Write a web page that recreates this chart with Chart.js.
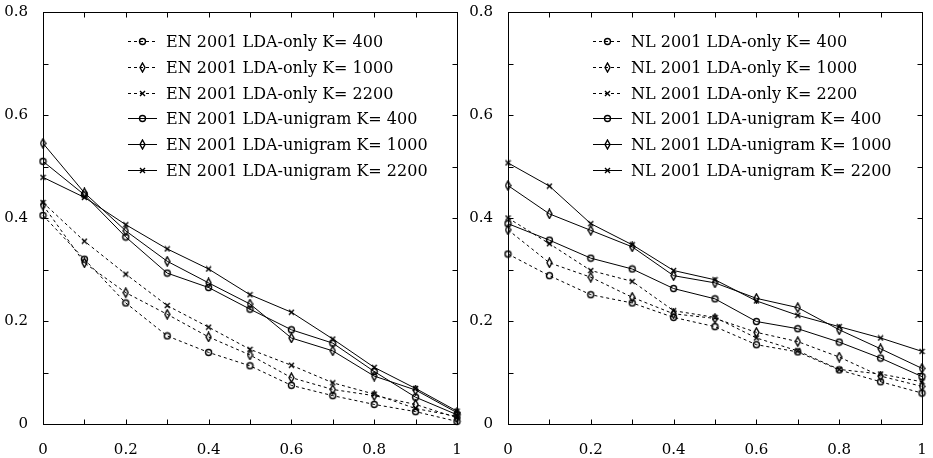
<!DOCTYPE html>
<html>
<head>
<meta charset="utf-8">
<script src="https://cdn.jsdelivr.net/npm/chart.js@4/dist/chart.umd.min.js"></script>
<style>
  body { margin: 0; background: #fff; }
  canvas { position: absolute; top: 0; }
  #graph_en { left: 0; }
  #graph_nl { left: 465px; }
</style>
</head>
<body>
<canvas id="graph_en" width="465" height="458"></canvas>
<canvas id="graph_nl" width="468" height="458"></canvas>
<script>
/* x positions shared by every series */
const xValues = [0, 0.1, 0.2, 0.3, 0.4, 0.5, 0.6, 0.7, 0.8, 0.9, 1];

/* EN 2001 */
const enOnly400 = [0.405, 0.320, 0.235, 0.171, 0.139, 0.113, 0.075, 0.055, 0.038, 0.024, 0.005];
const enOnly1000 = [0.425, 0.313, 0.255, 0.213, 0.169, 0.134, 0.090, 0.067, 0.055, 0.038, 0.012];
const enOnly2200 = [0.430, 0.355, 0.291, 0.230, 0.188, 0.145, 0.114, 0.080, 0.058, 0.030, 0.015];
const enUni400 = [0.510, 0.445, 0.363, 0.293, 0.265, 0.223, 0.183, 0.157, 0.102, 0.052, 0.018];
const enUni1000 = [0.545, 0.449, 0.375, 0.316, 0.274, 0.233, 0.167, 0.142, 0.093, 0.066, 0.022];
const enUni2200 = [0.479, 0.440, 0.387, 0.340, 0.301, 0.251, 0.217, 0.165, 0.110, 0.069, 0.025];

/* NL 2001 */
const nlOnly400 = [0.330, 0.288, 0.251, 0.235, 0.207, 0.189, 0.154, 0.140, 0.105, 0.082, 0.060];
const nlOnly1000 = [0.377, 0.313, 0.285, 0.246, 0.214, 0.205, 0.178, 0.160, 0.130, 0.093, 0.073];
const nlOnly2200 = [0.400, 0.350, 0.298, 0.277, 0.220, 0.207, 0.167, 0.142, 0.106, 0.097, 0.082];
const nlUni400 = [0.389, 0.357, 0.322, 0.301, 0.263, 0.243, 0.199, 0.185, 0.159, 0.128, 0.092];
const nlUni1000 = [0.463, 0.408, 0.376, 0.344, 0.288, 0.274, 0.244, 0.226, 0.183, 0.146, 0.108];
const nlUni2200 = [0.507, 0.462, 0.389, 0.348, 0.298, 0.280, 0.239, 0.211, 0.189, 0.167, 0.141];

const kValues = [400, 1000, 2200];
const xTicks = [0, 0.2, 0.4, 0.6, 0.8, 1];
const yTicks = [0, 0.2, 0.4, 0.6, 0.8];

const FONT = 'DejaVu Serif';

/* gnuplot style open markers drawn on small canvases */
function marker(w, h, draw) {
    var c = document.createElement('canvas');
    c.width = w;
    c.height = h;
    var ctx = c.getContext('2d');
    ctx.strokeStyle = '#000';
    ctx.lineWidth = 1.4;
    ctx.beginPath();
    draw(ctx);
    ctx.stroke();
    return c;
}
const circleMark = marker(9, 9, ctx => ctx.arc(4.5, 4.5, 3, 0, Math.PI * 2));
const diamondMark = marker(7, 11, ctx => {
    ctx.moveTo(3.5, 1); ctx.lineTo(6, 5.5); ctx.lineTo(3.5, 10); ctx.lineTo(1, 5.5); ctx.closePath();
});
const crossMark = marker(7, 7, ctx => {
    ctx.moveTo(1, 1); ctx.lineTo(6, 6); ctx.moveTo(6, 1); ctx.lineTo(1, 6);
});
const marks = [circleMark, diamondMark, crossMark];

/* frame, inward ticks on all four sides, and the key */
const gnuplotFrame = {
    id: 'gnuplotFrame',
    afterDatasetsDraw(chart) {
        var ctx = chart.ctx;
        var a = chart.chartArea;
        var x = chart.scales.x, y = chart.scales.y;
        var L = Math.round(a.left) + 0.5, R = Math.round(a.right) + 0.5;
        var T = Math.round(a.top) + 0.5, B = Math.round(a.bottom) + 0.5;
        ctx.save();
        ctx.strokeStyle = '#000';
        ctx.lineWidth = 1;
        ctx.strokeRect(L, T, R - L, B - T);
        ctx.beginPath();
        for (var i = 0; i <= 10; i++) {
            var px = Math.round(x.getPixelForValue(i / 10)) + 0.5;
            ctx.moveTo(px, B); ctx.lineTo(px, B - 5);
            ctx.moveTo(px, T); ctx.lineTo(px, T + 5);
        }
        for (var j = 0; j <= 8; j++) {
            var py = Math.round(y.getPixelForValue(j / 10)) + 0.5;
            ctx.moveTo(L, py); ctx.lineTo(L + 5, py);
            ctx.moveTo(R, py); ctx.lineTo(R - 5, py);
        }
        ctx.stroke();

        /* key */
        ctx.font = '16px "' + FONT + '"';
        ctx.fillStyle = '#000';
        ctx.textBaseline = 'middle';
        chart.data.datasets.forEach((ds, k) => {
            var sx = a.left + 85;
            var sy = Math.round(a.top + 29 + k * 25.8) + 0.5;
            ctx.setLineDash(ds.borderDash || []);
            ctx.beginPath();
            ctx.moveTo(sx, sy);
            ctx.lineTo(sx + 29, sy);
            ctx.stroke();
            ctx.setLineDash([]);
            var m = ds.pointStyle;
            ctx.drawImage(m, Math.round(sx + 14.5 - m.width / 2), Math.round(sy - m.height / 2));
            ctx.fillText(ds.label, sx + 38, sy + 1);
        });
        ctx.restore();
    }
};

function series(lang, kind, k, values) {
    var dashed = kind === 'LDA-only';
    return {
        label: lang + ' 2001 ' + kind + ' K= ' + kValues[k],
        data: values.map((v, i) => ({ x: xValues[i], y: v })),
        borderColor: '#000',
        borderWidth: 1,
        borderDash: dashed ? [3, 3] : [],
        pointStyle: marks[k],
        pointRadius: 4,
        pointBorderColor: '#000',
        pointBackgroundColor: 'rgba(0,0,0,0)',
        tension: 0,
        clip: false
    };
}

function Plot(id, lang, only, uni, padRight) {
    var tickFont = { family: FONT, size: 15 };
    return new Chart(document.getElementById(id), {
        type: 'line',
        data: {
            datasets: [
                series(lang, 'LDA-only', 0, only[0]),
                series(lang, 'LDA-only', 1, only[1]),
                series(lang, 'LDA-only', 2, only[2]),
                series(lang, 'LDA-unigram', 0, uni[0]),
                series(lang, 'LDA-unigram', 1, uni[1]),
                series(lang, 'LDA-unigram', 2, uni[2])
            ]
        },
        options: {
            responsive: false,
            animation: false,
            layout: { padding: { left: 0, right: padRight, top: 12, bottom: 0 } },
            plugins: { legend: { display: false }, tooltip: { enabled: false } },
            scales: {
                x: {
                    type: 'linear', min: 0, max: 1,
                    afterBuildTicks: s => { s.ticks = xTicks.map(v => ({ value: v })); },
                    grid: { display: false, drawTicks: false },
                    border: { display: false },
                    ticks: { font: tickFont, color: '#000', padding: 17, maxRotation: 0,
                             callback: v => String(v) },
                    afterFit: s => { s.height = 34; s.paddingLeft = 0; s.paddingRight = 0; }
                },
                y: {
                    min: 0, max: 0.8,
                    afterBuildTicks: s => { s.ticks = yTicks.map(v => ({ value: v })); },
                    grid: { display: false, drawTicks: false },
                    border: { display: false },
                    ticks: { font: tickFont, color: '#000', padding: 15,
                             callback: v => String(v) },
                    afterFit: s => { s.width = 43; s.paddingTop = 0; s.paddingBottom = 0; }
                }
            }
        },
        plugins: [gnuplotFrame]
    });
}

Plot('graph_en', 'EN', [enOnly400, enOnly1000, enOnly2200], [enUni400, enUni1000, enUni2200], 8);
Plot('graph_nl', 'NL', [nlOnly400, nlOnly1000, nlOnly2200], [nlUni400, nlUni1000, nlUni2200], 11);
</script>
</body>
</html>
